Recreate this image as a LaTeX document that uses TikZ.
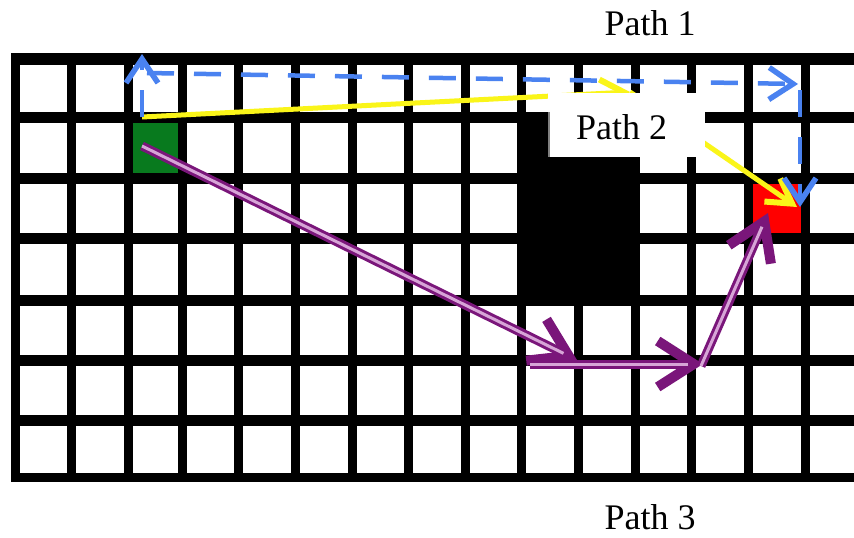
\documentclass[tikz,border=0pt]{standalone}
\usepackage{fontspec}
\setmainfont{Liberation Serif}
\usetikzlibrary{arrows.meta}
\definecolor{pathblue}{RGB}{74,130,240}
\definecolor{pathyellow}{RGB}{250,245,25}
\definecolor{pathpurple}{RGB}{122,22,122}
\definecolor{pathpink}{RGB}{215,165,215}
\definecolor{startgreen}{RGB}{8,122,30}
\definecolor{goalred}{RGB}{255,0,0}
\begin{document}
\begin{tikzpicture}[x=1pt,y=-1pt,
  bluepath/.style={draw=pathblue, line width=4.5, dash pattern=on 27 off 20,
    -{Straight Barb[length=24pt,width=32pt,line width=5.5pt]}},
  yellowpath/.style={draw=pathyellow, line width=5,
    -{Straight Barb[length=24pt,width=28pt,line width=6pt]}},
  purpleout/.style={draw=pathpurple, line width=9,
    -{Straight Barb[length=36pt,width=46pt,line width=10pt]}},
  purplein/.style={draw=pathpink, line width=3, shorten >=15pt},
  pathlabel/.style={inner sep=0pt, font=\fontsize{36}{40}\selectfont}]
\useasboundingbox (0,0) rectangle (854,538);
\fill[white] (0,0) rectangle (854,538);

% special cells: start, goal, obstacle block
\fill[startgreen] (128.5,117.5) rectangle (182.5,178);
\fill[goalred] (748.5,178) rectangle (805,238);
\fill[black] (521.5,117.5) rectangle (635.5,300);

% grid lines
\foreach \x in {15.5,71.5,128.5,182.5,238.5,295.5,352,408.5,465.5,521.5,578.5,635.5,691.5,748.5,805}
  \draw[line width=9] (\x,53) -- (\x,482);
\foreach \y/\w in {59/12,117.5/11,178/11,238/11,300/11,360/11,420/11,477.5/9}
  \draw[line width=\w] (11,\y) -- (854,\y);

% waypoints of the three paths
\coordinate (p0) at (142,146);
\coordinate (p1) at (577,360);
\coordinate (p2) at (530,364);
\coordinate (p3) at (703,364);
\coordinate (p4) at (701,366);
\coordinate (p5) at (768,213);

\coordinate (y0) at (142,117);
\coordinate (y1) at (630,92);
\coordinate (y2) at (797,207);

\coordinate (b0) at (142,117);
\coordinate (b1) at (142,54);
\coordinate (b2) at (147,73);
\coordinate (b3) at (798,84);
\coordinate (b4) at (800,90);
\coordinate (b5) at (800,207);

% path 3: purple double-line arrows
\foreach \s/\e in {p0/p1,p2/p3,p4/p5}{
  \draw[purpleout] (\s) -- (\e);
  \draw[purplein] (\s) -- (\e);
}

% path 2: yellow arrows
\draw[yellowpath] (y0) -- (y1);
\draw[yellowpath] (y1) -- (y2);

% label box of path 2
\fill[white] (548,93) rectangle (705,157);
\draw[gray, line width=2] (549,112) -- (549,157);
\node[pathlabel] (lab2) at (621.5,127) {Path 2};

% path 1: blue dashed arrows
\draw[bluepath] (b0) -- (b1);
\draw[bluepath] (b2) -- (b3);
\draw[bluepath] (b4) -- (b5);

% path names
\node[pathlabel] (lab1) at (650,23) {Path 1};
\node[pathlabel] (lab3) at (650,517) {Path 3};
\end{tikzpicture}
\end{document}
